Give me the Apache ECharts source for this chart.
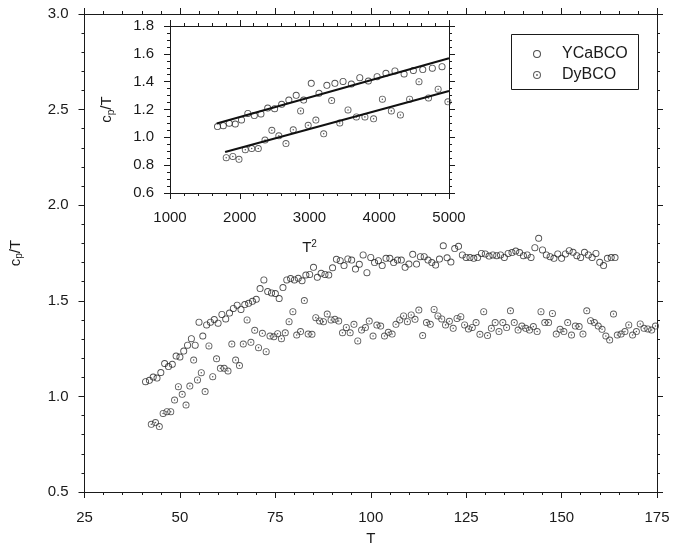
<!DOCTYPE html>
<html>
<head>
<meta charset="utf-8">
<script src="https://cdn.jsdelivr.net/npm/echarts@6/dist/echarts.min.js"></script>
<style>
  html, body { margin: 0; padding: 0; background: #fff; }
  #chart { width: 686px; height: 552px; }
</style>
</head>
<body>
<div id="chart"></div>
<script>
// Specific heat c_p/T versus temperature for two cuprate samples.
const seriesNames = ['YCaBCO', 'DyBCO'];

// YCaBCO: temperature (K) and c_p/T
const tYCa = [41,42,43,44,45,46,47,48,49,50,51,52,53,54,55,56,57,58,59,60,61,62,63,64,65,66,67,68,69,70,
  71,72,73,74,75,76,77,78,79,80,81,82,83,84,85,86,87,88,89,90,91,92,93,94,95,96,97,98,99,100,
  101,102,103,104,105,106,107,108,109,110,111,112,113,114,115,116,117,118,119,120,
  121,122,123,124,125,126,127,128,129,130,131,132,133,134,135,136,137,138,139,140,
  141,142,143,144,145,146,147,148,149,150,151,152,153,154,155,156,157,158,159,160,161,162,163,164];
const cpYCa = [1.077,1.084,1.101,1.096,1.125,1.172,1.156,1.168,1.211,1.206,
  1.237,1.268,1.302,1.268,1.388,1.316,1.374,1.388,1.402,1.383,
  1.429,1.405,1.436,1.460,1.477,1.455,1.480,1.487,1.497,1.508,
  1.564,1.609,1.548,1.541,1.538,1.512,1.569,1.609,1.616,1.609,
  1.618,1.605,1.635,1.638,1.675,1.623,1.644,1.638,1.635,1.673,
  1.717,1.710,1.684,1.719,1.713,1.666,1.691,1.740,1.647,1.727,
  1.700,1.710,1.684,1.722,1.722,1.700,1.713,1.713,1.675,1.692,
  1.743,1.692,1.731,1.731,1.713,1.700,1.687,1.718,1.788,1.725,
  1.703,1.773,1.785,1.740,1.727,1.726,1.722,1.726,1.748,1.745,
  1.734,1.740,1.736,1.740,1.727,1.748,1.752,1.760,1.752,1.736,
  1.740,1.727,1.778,1.827,1.766,1.740,1.731,1.722,1.745,1.722,
  1.745,1.762,1.754,1.736,1.727,1.754,1.740,1.727,1.748,1.701,
  1.684,1.722,1.726,1.726];

// DyBCO: temperature (K) and c_p/T
const tDy = [42.5,43.6,44.6,45.6,46.6,47.6,48.6,49.6,50.6,51.6,52.6,53.6,54.6,55.6,56.6,57.6,58.6,59.6,60.6,61.6,
  62.6,63.6,64.6,65.6,66.6,67.6,68.6,69.6,70.6,71.6,72.6,73.6,74.6,75.6,76.6,77.6,78.6,79.6,80.6,81.6,
  82.6,83.6,84.6,85.6,86.6,87.6,88.6,89.6,90.6,91.6,92.6,93.6,94.6,95.6,96.6,97.6,98.6,99.6,100.6,101.6,
  102.6,103.6,104.6,105.6,106.6,107.6,108.6,109.6,110.6,111.6,112.6,113.6,114.6,115.6,116.6,117.6,118.6,119.6,120.6,121.6,
  122.6,123.6,124.6,125.6,126.6,127.6,128.6,129.6,130.6,131.6,132.6,133.6,134.6,135.6,136.6,137.6,138.6,139.6,140.6,141.6,
  142.6,143.6,144.6,145.6,146.6,147.6,148.6,149.6,150.6,151.6,152.6,153.6,154.6,155.6,156.6,157.6,158.6,159.6,160.6,161.6,
  162.6,163.6,164.6,165.6,166.6,167.6,168.6,169.6,170.6,171.6,172.6,173.6,174.6];
const cpDy = [0.854,0.863,0.842,0.911,0.920,0.920,0.981,1.051,1.011,0.955,
  1.054,1.190,1.086,1.124,1.025,1.264,1.103,1.197,1.147,1.147,
  1.133,1.274,1.190,1.161,1.274,1.400,1.283,1.346,1.255,1.330,
  1.234,1.316,1.312,1.328,1.302,1.333,1.391,1.443,1.321,1.339,
  1.501,1.326,1.325,1.412,1.395,1.391,1.431,1.400,1.403,1.394,
  1.333,1.361,1.333,1.377,1.290,1.347,1.360,1.394,1.316,1.373,
  1.368,1.316,1.335,1.326,1.377,1.400,1.421,1.391,1.426,1.403,
  1.452,1.318,1.386,1.377,1.455,1.421,1.405,1.374,1.393,1.356,
  1.408,1.417,1.374,1.353,1.361,1.386,1.325,1.443,1.318,1.356,
  1.386,1.339,1.386,1.360,1.448,1.386,1.347,1.368,1.356,1.347,
  1.365,1.339,1.443,1.386,1.386,1.434,1.326,1.351,1.339,1.386,
  1.321,1.368,1.365,1.326,1.448,1.396,1.386,1.368,1.351,1.316,
  1.295,1.431,1.321,1.326,1.339,1.374,1.321,1.339,1.379,1.356,
  1.353,1.347,1.368];

// Linear fits of c_p/T against T^2 (end points, [T^2, c_p/T])
const fitYCa = [[1670, 1.100], [5000, 1.568]];
const fitDy = [[1790, 0.895], [5000, 1.333]];

// Axis ranges
const mainX = { min: 25, max: 175, step: 25 };
const mainY = { min: 0.5, max: 3.0, step: 0.5 };
const insetX = { min: 1000, max: 5000, step: 1000 };
const insetY = { min: 0.6, max: 1.8, step: 0.2 };

const FONT = 'Liberation Sans';
const INK = '#1a1a1a';

// Ring marker and ring-with-centre-dot marker
const ringSymbol = 'path://M10,0A10,10,0,1,1,10,20A10,10,0,1,1,10,0ZM10,2.6A7.4,7.4,0,1,0,10,17.4A7.4,7.4,0,1,0,10,2.6Z';
const dotRingSymbol = 'path://M10,0A10,10,0,1,1,10,20A10,10,0,1,1,10,0ZM10,2.6A7.4,7.4,0,1,0,10,17.4A7.4,7.4,0,1,0,10,2.6ZM10,7.8A2.2,2.2,0,1,1,10,12.2A2.2,2.2,0,1,1,10,7.8Z';

const pairs = (xs, ys) => xs.map((x, i) => [x, ys[i]]);
const squaredPairs = (xs, ys) => xs.map((x, i) => [x * x, ys[i]]).filter(p => p[0] <= insetX.max);

const richLabel = {
  n: { fontFamily: FONT, fontSize: 15, color: INK, lineHeight: 18 },
  s: { fontFamily: FONT, fontSize: 10, color: INK, lineHeight: 10, verticalAlign: 'bottom' },
  u: { fontFamily: FONT, fontSize: 10, color: INK, lineHeight: 10, verticalAlign: 'top' }
};

function valueAxis(range, opts) {
  return Object.assign({
    type: 'value',
    min: range.min, max: range.max, interval: range.step,
    axisLine: { show: true, onZero: false, lineStyle: { color: INK, width: 1 } },
    axisTick: { show: true, inside: false, length: 6, lineStyle: { color: INK, width: 1 } },
    minorTick: { show: true, splitNumber: 5, length: 3, lineStyle: { color: INK, width: 1 } },
    splitLine: { show: false },
    axisLabel: { show: true, fontFamily: FONT, fontSize: 15, color: INK, margin: 16 }
  }, opts);
}

const chart = echarts.init(document.getElementById('chart'), null, { renderer: 'canvas' });

const option = {
  backgroundColor: '#fff',
  animation: false,
  grid: [
    { left: 84, right: 29, top: 14, bottom: 60 },
    { left: 170, right: 237, top: 26, bottom: 359 }
  ],
  xAxis: [
    valueAxis(mainX, {
      gridIndex: 0, position: 'bottom',
      name: 'T', nameLocation: 'middle', nameGap: 39,
      nameTextStyle: { fontFamily: FONT, fontSize: 15, color: INK },
      axisLabel: { fontFamily: FONT, fontSize: 15, color: INK, margin: 18 }
    }),
    valueAxis(mainX, { gridIndex: 0, position: 'top', axisLabel: { show: false } }),
    valueAxis(insetX, {
      gridIndex: 1, position: 'bottom',
      name: '{n|T}{u|2}', nameLocation: 'middle', nameGap: 46,
      nameTextStyle: { rich: richLabel },
      axisLabel: { fontFamily: FONT, fontSize: 15, color: INK, margin: 17, formatter: v => String(v) }
    }),
    valueAxis(insetX, { gridIndex: 1, position: 'top', axisLabel: { show: false } })
  ],
  yAxis: [
    valueAxis(mainY, {
      gridIndex: 0, position: 'left',
      name: '{n|c}{s|p}{n|/T}', nameLocation: 'middle', nameGap: 60, nameRotate: 90,
      nameTextStyle: { rich: richLabel },
      axisLabel: { fontFamily: FONT, fontSize: 15, color: INK, margin: 16, formatter: v => v.toFixed(1) }
    }),
    valueAxis(mainY, { gridIndex: 0, position: 'right', axisLabel: { show: false } }),
    valueAxis(insetY, {
      gridIndex: 1, position: 'left',
      minorTick: { show: true, splitNumber: 4, length: 3, lineStyle: { color: INK, width: 1 } },
      name: '{n|c}{s|p}{n|/T}', nameLocation: 'middle', nameGap: 54, nameRotate: 90,
      nameTextStyle: { rich: richLabel },
      axisLabel: { fontFamily: FONT, fontSize: 15, color: INK, margin: 16, formatter: v => v.toFixed(1) }
    }),
    valueAxis(insetY, {
      gridIndex: 1, position: 'right',
      minorTick: { show: true, splitNumber: 4, length: 3, lineStyle: { color: INK, width: 1 } },
      axisLabel: { show: false }
    })
  ],
  legend: {
    data: seriesNames,
    orient: 'vertical',
    left: 533, top: 46,
    itemWidth: 40, itemHeight: 8, itemGap: 5,
    symbolKeepAspect: true,
    padding: 0,
    textStyle: { fontFamily: FONT, fontSize: 16, color: INK },
    z: 10
  },
  graphic: [{
    type: 'rect', z: 5,
    shape: { x: 511.5, y: 34.5, width: 127, height: 55 },
    style: { fill: '#fff', stroke: INK, lineWidth: 1 }
  }],
  series: [
    {
      name: seriesNames[0], type: 'scatter', xAxisIndex: 0, yAxisIndex: 0,
      symbol: ringSymbol, symbolSize: 7,
      itemStyle: { color: '#222' },
      data: pairs(tYCa, cpYCa)
    },
    {
      name: seriesNames[1], type: 'scatter', xAxisIndex: 0, yAxisIndex: 0,
      symbol: dotRingSymbol, symbolSize: 7,
      itemStyle: { color: '#333' },
      data: pairs(tDy, cpDy)
    },
    {
      name: seriesNames[0], type: 'scatter', xAxisIndex: 2, yAxisIndex: 2,
      symbol: ringSymbol, symbolSize: 7,
      itemStyle: { color: '#222' },
      data: squaredPairs(tYCa, cpYCa)
    },
    {
      name: seriesNames[1], type: 'scatter', xAxisIndex: 2, yAxisIndex: 2,
      symbol: dotRingSymbol, symbolSize: 7,
      itemStyle: { color: '#333' },
      data: squaredPairs(tDy, cpDy)
    },
    {
      name: 'fitYCa', type: 'line', xAxisIndex: 2, yAxisIndex: 2,
      showSymbol: false, symbol: 'none', silent: true,
      lineStyle: { color: '#111', width: 2 },
      data: fitYCa, z: 3
    },
    {
      name: 'fitDy', type: 'line', xAxisIndex: 2, yAxisIndex: 2,
      showSymbol: false, symbol: 'none', silent: true,
      lineStyle: { color: '#111', width: 2 },
      data: fitDy, z: 3
    }
  ]
};

chart.setOption(option);
</script>
</body>
</html>
